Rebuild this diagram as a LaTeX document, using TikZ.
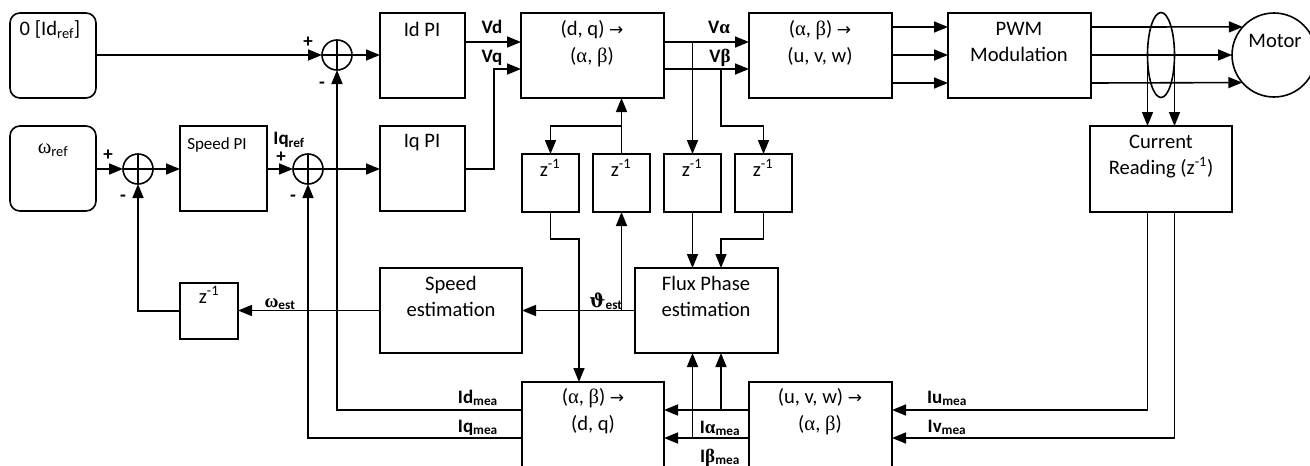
\documentclass[tikz,border=0pt]{standalone}
\usepackage{fontspec}
\setmainfont{Carlito}
\newfontfamily\grk{Liberation Serif}
\newfontfamily\arw{DejaVu Sans}
\newfontfamily\dvs{DejaVu Serif}
\usetikzlibrary{arrows.meta,shapes.geometric}
\newcommand{\sbs}[1]{\textsubscript{#1}}
\newcommand{\ga}{{\grk α}}
\newcommand{\gb}{{\grk β}}
\newcommand{\rarr}{{\arw\fontsize{17}{20}\selectfont →}}
\tikzset{
  lw/.style={line width=1.6pt},
  box/.style={draw, lw, rectangle, anchor=north west, outer sep=0pt, inner sep=0pt},
  rbox/.style={box, rounded corners=10pt},
  sumc/.style={draw, lw, circle, minimum size=30pt, inner sep=0pt, outer sep=0pt},
  conn/.style={lw, -{Triangle[length=14pt,width=11pt]}},
  wire/.style={lw},
  txt/.style={anchor=base, inner sep=0pt, font=\fontsize{20.6}{24}\selectfont},
  lbl/.style={anchor=base, inner sep=0pt, font=\fontsize{19}{22}\selectfont\bfseries},
  sgn/.style={inner sep=0pt, font=\fontsize{19}{20}\selectfont\bfseries},
}
\begin{document}
\begin{tikzpicture}[x=1pt,y=-1pt]
\useasboundingbox (0,0) rectangle (1310,466);
\clip (0,0) rectangle (1310,466);
% level coordinates
\coordinate (La) at (0,42);
\coordinate (Lb) at (0,69);
\coordinate (Lc) at (0,126);
\coordinate (Ld) at (0,239);
\coordinate (Lid) at (0,410);
\coordinate (Liq) at (0,438);
\coordinate (P1) at (0,27);
\coordinate (P2) at (0,55);
\coordinate (P3) at (0,83);
\coordinate (xvq) at (494,0);
\coordinate (xb) at (721,0);
\coordinate (xa) at (579,0);
% boxes
\node[rbox, minimum width=86pt, minimum height=85pt] (idref) at (10,13) {};
\node[rbox, minimum width=86pt, minimum height=85pt] (wref) at (10,126) {};
\node[box, minimum width=87pt, minimum height=85pt] (spi) at (180,126) {};
\node[box, minimum width=85pt, minimum height=85pt] (idpi) at (380,13) {};
\node[box, minimum width=85pt, minimum height=85pt] (iqpi) at (380,126) {};
\node[box, minimum width=143pt, minimum height=85pt] (dq2ab) at (521,13) {};
\node[box, minimum width=143pt, minimum height=85pt] (ab2uvw) at (749,13) {};
\node[box, minimum width=143pt, minimum height=85pt] (pwm) at (948,13) {};
\node[draw, lw, circle, minimum size=84pt, inner sep=0pt, outer sep=0pt] (motor) at (1274,55) {};
\node[draw, lw, ellipse, minimum width=27pt, minimum height=85pt, inner sep=0pt, outer sep=0pt] (ell) at (1161,55) {};
\node[box, minimum width=142pt, minimum height=86pt] (cur) at (1090,126) {};
\node[box, minimum width=57pt, minimum height=58pt] (z1) at (522,154) {};
\node[box, minimum width=57pt, minimum height=58pt] (z2) at (593,154) {};
\node[box, minimum width=57pt, minimum height=58pt] (z3) at (664,154) {};
\node[box, minimum width=57pt, minimum height=58pt] (z4) at (735,154) {};
\node[box, minimum width=58pt, minimum height=56pt] (zw) at (180,283) {};
\node[box, minimum width=142pt, minimum height=85pt] (spest) at (380,268) {};
\node[box, minimum width=143pt, minimum height=85pt] (flux) at (635,268) {};
\node[box, minimum width=142pt, minimum height=100pt] (ab2dq) at (522,382) {};
\node[box, minimum width=143pt, minimum height=100pt] (uvw2ab) at (749,382) {};
\node[sumc] (sumd) at (337,55) {};
\node[sumc] (sumw) at (138,169) {};
\node[sumc] (sumq) at (308,169) {};
\foreach \s in {sumd,sumw,sumq} \draw[wire] (\s.north) -- (\s.south) (\s.west) -- (\s.east);
% texts
\node[txt] (t-idref) at (50,35) {0 [Id\sbs{ref}]};
\node[txt] (t-wref) at (53,153) {{\grk ω}\sbs{ref}};
\node[txt, font=\fontsize{17}{20}\selectfont] (t-spi) at (217,149) {Speed PI};
\node[txt] (t-idpi) at (422,36) {Id PI};
\node[txt] (t-iqpi) at (422,147) {Iq PI};
\node[txt] (t-dq1) at (592,35) {(d, q) \rarr};
\node[txt] (t-dq2) at (592,62) {(\ga, \gb)};
\node[txt] (t-uvw1) at (820,35) {(\ga, \gb) \rarr};
\node[txt] (t-uvw2) at (820,62) {(u, v, w)};
\node[txt] (t-pwm1) at (1019,35) {PWM};
\node[txt] (t-pwm2) at (1019,61) {Modulation};
\node[txt] (t-motor) at (1275,47) {Motor};
\node[txt] (t-cur1) at (1161,148) {Current};
\node[txt] (t-cur2) at (1161,174) {Reading (z\textsuperscript{-1})};
\node[txt] (t-z1) at (550,176) {z\textsuperscript{-1}};
\node[txt] (t-z2) at (621,176) {z\textsuperscript{-1}};
\node[txt] (t-z3) at (692,176) {z\textsuperscript{-1}};
\node[txt] (t-z4) at (763,176) {z\textsuperscript{-1}};
\node[txt] (t-zw) at (209,303) {z\textsuperscript{-1}};
\node[txt] (t-sp1) at (451,290) {Speed};
\node[txt] (t-sp2) at (451,316) {estimation};
\node[txt] (t-fl1) at (706,290) {Flux Phase};
\node[txt] (t-fl2) at (706,316) {estimation};
\node[txt] (t-ad1) at (593,403) {(\ga, \gb) \rarr};
\node[txt] (t-ad2) at (593,430) {(d, q)};
\node[txt] (t-ua1) at (820,403) {(u, v, w) \rarr};
\node[txt] (t-ua2) at (820,430) {(\ga, \gb)};
% labels
\node[lbl] (l-vd) at (492,33) {Vd};
\node[lbl] (l-vq) at (492,62) {Vq};
\node[lbl] (l-va) at (719,33) {V{\grk\bfseries α}};
\node[lbl] (l-vb) at (720,62) {V{\grk\bfseries β}};
\node[lbl] (l-iqref) at (289,144) {Iq\sbs{ref}};
\node[lbl] (l-west) at (280,307) {{\grk\bfseries ω}\sbs{est}};
\node[lbl] (l-thest) at (606,307) {{\dvs\bfseries ϑ}\sbs{est}};
\node[lbl, anchor=base east] (l-idm) at (498,403) {Id\sbs{mea}};
\node[lbl, anchor=base east] (l-iqm) at (498,432) {Iq\sbs{mea}};
\node[lbl] (l-iam) at (720,433) {I{\grk\bfseries α}\sbs{mea}};
\node[lbl] (l-ibm) at (720,462) {I{\grk\bfseries β}\sbs{mea}};
\node[lbl] (l-ium) at (947,403) {Iu\sbs{mea}};
\node[lbl] (l-ivm) at (947,432) {Iv\sbs{mea}};
% signs
\node[sgn] (s1) at (308,42) {+};
\node[sgn] (s2) at (322,85) {-};
\node[sgn] (s3) at (108,155) {+};
\node[sgn] (s4) at (123,198) {-};
\node[sgn] (s5) at (281,157) {+};
\node[sgn] (s6) at (293,198) {-};
% connectors
\draw[conn] (sumd -| idref.east) -- (sumd.west);
\draw[conn] (sumd.east) -- (sumd -| idpi.west);
\draw[conn] (idpi.east |- La) -- (dq2ab.west |- La);
\draw[conn] (iqpi.east |- sumq) -| (xvq |- Lb) -- (dq2ab.west |- Lb);
\draw[conn] (sumw -| wref.east) -- (sumw.west);
\draw[conn] (sumw.east) -- (sumw -| spi.west);
\draw[conn] (sumq -| spi.east) -- (sumq.west);
\draw[conn] (sumq.east) -- (sumq -| iqpi.west);
\draw[conn] (dq2ab.east |- La) -- (ab2uvw.west |- La);
\draw[conn] (dq2ab.east |- Lb) -- (ab2uvw.west |- Lb);
\draw[conn] (z3.north |- La) -- (z3.north);
\draw[conn] (xb |- Lb) -- (xb |- Lc) -| (z4.north);
\draw[conn] (z3.south) -- (z3.south |- flux.north);
\draw[conn] (z4.south) -- (z4.south |- Ld) -| (xb |- flux.north);
\draw[conn] (z2.north) -- (z2.north |- dq2ab.south);
\draw[conn] (z2.north |- Lc) -| (z1.north);
\draw[conn] (flux.west) -- (flux.west -| spest.east);
\draw[conn] (z2.south |- flux.west) -- (z2.south);
\draw[conn] (z1.south) -- (z1.south |- Ld) -| (xa |- ab2dq.north);
\draw[conn] (spest.west) -- (spest.west -| zw.east);
\draw[conn] (zw.west) -| (sumw.south);
\draw[conn] (ab2dq.west |- Lid) -| (sumd.south);
\draw[conn] (ab2dq.west |- Liq) -| (sumq.south);
\draw[conn] (uvw2ab.west |- Lid) -- (ab2dq.east |- Lid);
\draw[conn] (uvw2ab.west |- Liq) -- (ab2dq.east |- Liq);
\draw[conn] (xb |- Lid) -- (xb |- flux.south);
\draw[conn] (z3.south |- Liq) -- (z3.south |- flux.south);
\draw[conn] (cur.south -| ell.west) |- (uvw2ab.east |- Lid);
\draw[conn] (cur.south -| ell.east) |- (uvw2ab.east |- Liq);
\draw[conn] (ell.west) -- (ell.west |- cur.north);
\draw[conn] (ell.east) -- (ell.east |- cur.north);
\draw[conn] (ab2uvw.east |- P1) -- (pwm.west |- P1);
\draw[conn] (ab2uvw.east |- P2) -- (pwm.west |- P2);
\draw[conn] (ab2uvw.east |- P3) -- (pwm.west |- P3);
\draw[conn] (pwm.east |- P1) -- (motor.138.2);
\draw[conn] (pwm.east |- P2) -- (motor.west);
\draw[conn] (pwm.east |- P3) -- (motor.221.8);
\end{tikzpicture}
\end{document}
